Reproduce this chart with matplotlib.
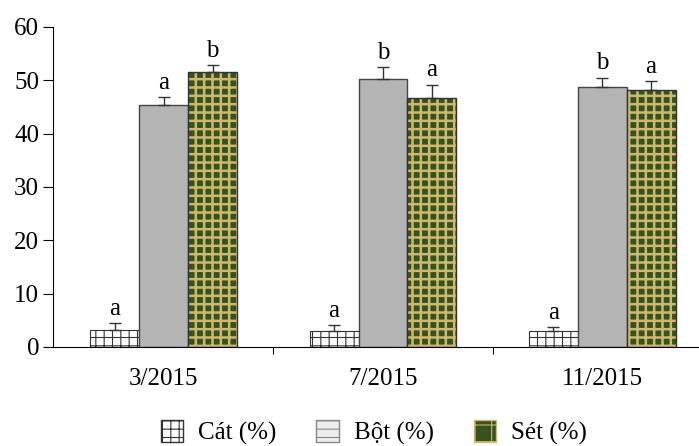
import matplotlib.pyplot as plt
import matplotlib as mpl
import numpy as np
from matplotlib.patches import Patch

plt.rcParams['font.family'] = ['Liberation Serif', 'DejaVu Serif']

months = ['3/2015', '7/2015', '11/2015']
cat = [3.2, 3.0, 3.0]
cat_err = [1.3, 1.1, 0.8]
bot = [45.4, 50.3, 48.8]
bot_err = [1.5, 2.2, 1.7]
set_ = [51.6, 46.7, 48.2]
set_err = [1.3, 2.5, 1.7]
cat_lbl = ['a', 'a', 'a']
bot_lbl = ['a', 'b', 'b']
set_lbl = ['b', 'a', 'a']

fig = plt.figure(figsize=(6.99, 4.46), dpi=100)
ax = fig.add_axes([0.0758, 0.222, 0.93, 0.7175])

x = np.arange(len(months))
w = 0.223

mpl.rcParams['hatch.linewidth'] = 0.8
ax.bar(x - w, cat, w, color='white', edgecolor='#333333', hatch='++', linewidth=0.8)
ax.bar(x, bot, w, color='#b4b4b4', edgecolor='#444444', linewidth=1.0)
# clay: green with tan cells
mpl.rcParams['hatch.linewidth'] = 1.8
ax.bar(x + w, set_, w, color='#35521f', edgecolor='#cdb86e', hatch='++', linewidth=0)
ax.bar(x + w, set_, w, color='none', edgecolor='#333333', linewidth=1.0)

for off, vals, errs, lbls in [(-w, cat, cat_err, cat_lbl), (0, bot, bot_err, bot_lbl), (w, set_, set_err, set_lbl)]:
    ax.errorbar(x + off, vals, yerr=[np.zeros(3), errs], fmt='none', ecolor='#333333',
                elinewidth=1.0, capsize=4, capthick=1.0)
    for xi, v, e, l in zip(x + off, vals, errs, lbls):
        ax.text(xi, v + e + 0.6, l, ha='center', va='bottom', fontsize=18)

ax.set_xlim(-0.505, 2.46)
ax.set_ylim(0, 60)
ax.set_yticks(range(0, 61, 10))
ax.set_xticks([0.5, 1.5])
ax.set_xticklabels(['', ''])
for xi, m in zip(x, months):
    ax.text(xi, -4.0, m, ha='center', va='top', fontsize=18)
ax.tick_params(axis='y', labelsize=18, length=7, width=0.8, direction='out', pad=3)
ax.tick_params(axis='x', length=5, width=0.8, direction='out')
ax.spines['top'].set_visible(False)
ax.spines['right'].set_visible(False)
ax.spines['left'].set_linewidth(0.8)
ax.spines['bottom'].set_linewidth(0.8)

mpl.rcParams['hatch.linewidth'] = 0.8
handles = [
    Patch(facecolor='white', edgecolor='#333333', hatch='++', label='Cát (%)'),
    Patch(facecolor='#eeeeee', edgecolor='#888888', hatch='--', label='Bột (%)'),
    Patch(facecolor='#35521f', edgecolor='#cdb86e', hatch='+', label='Sét (%)'),
]
fig.legend(handles=handles, loc='center', bbox_to_anchor=(0.535, 0.03), ncol=3, frameon=False,
           fontsize=18, handlelength=0.9, handleheight=1.0, columnspacing=1.6, handletextpad=0.6)

fig.savefig('out.png', dpi=100)
